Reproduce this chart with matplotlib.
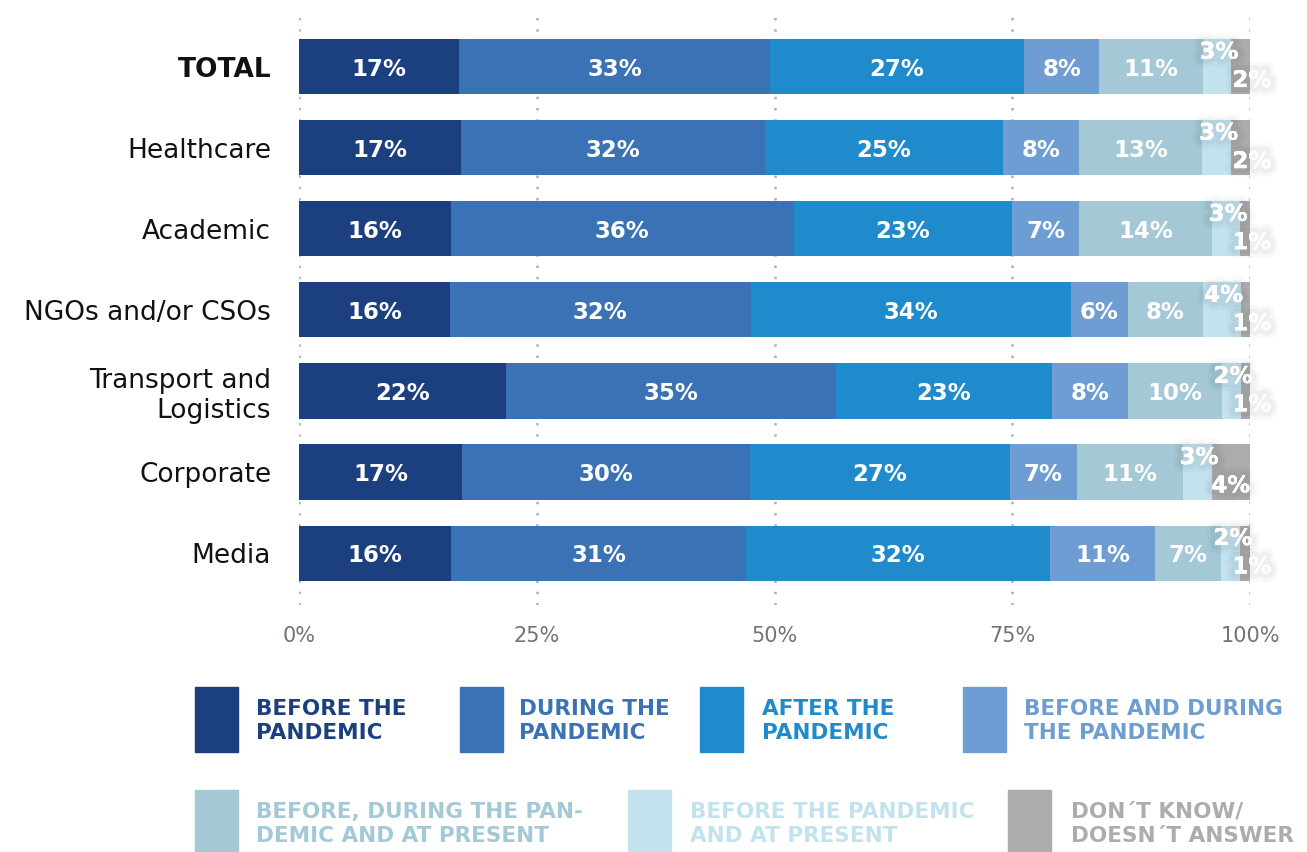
import matplotlib.pyplot as plt
import matplotlib.patheffects as pe
from matplotlib.patches import Rectangle

plt.rcParams['font.family'] = ['DejaVu Sans']

categories = ['TOTAL', 'Healthcare', 'Academic', 'NGOs and/or CSOs',
              'Transport and\nLogistics', 'Corporate', 'Media']
series = ['BEFORE THE\nPANDEMIC', 'DURING THE\nPANDEMIC', 'AFTER THE\nPANDEMIC',
          'BEFORE AND DURING\nTHE PANDEMIC', 'BEFORE, DURING THE PAN-\nDEMIC AND AT PRESENT',
          'BEFORE THE PANDEMIC\nAND AT PRESENT', 'DON´T KNOW/\nDOESN´T ANSWER']
values = [
    [17, 33, 27, 8, 11, 3, 2],
    [17, 32, 25, 8, 13, 3, 2],
    [16, 36, 23, 7, 14, 3, 1],
    [16, 32, 34, 6, 8, 4, 1],
    [22, 35, 23, 8, 10, 2, 1],
    [17, 30, 27, 7, 11, 3, 4],
    [16, 31, 32, 11, 7, 2, 1],
]
colors = ['#1c3f7f', '#3a72b5', '#1f8acc', '#6e9dd3', '#a4c8d6', '#c2e2ee', '#acacac']
xticks = [0, 25, 50, 75, 100]

W, H = 1307, 852
fig = plt.figure(figsize=(W / 100, H / 100), dpi=100)
ax = fig.add_axes([299 / W, 1 - 605 / H, (1250 - 299) / W, (605 - 10) / H])

glow = [pe.withStroke(linewidth=12, foreground=(0, 0, 0, 0.025)),
        pe.withStroke(linewidth=7, foreground=(0, 0, 0, 0.04)),
        pe.Normal()]

for i, row in enumerate(values):
    total = sum(row)
    left = 0
    for j, v in enumerate(row):
        w = v / total * 100
        ax.barh(i, w, left=left, height=0.68, color=colors[j], zorder=2)
        cx = left + w / 2
        if j < 5:
            ax.text(cx, i + 0.03, f'{v}%', ha='center', va='center', color='white',
                    fontsize=16.5, fontweight='bold', zorder=3)
        elif j == 5:
            ax.text(cx + 0.2, i - 0.18, f'{v}%', ha='center', va='center', color='white',
                    fontsize=16.5, fontweight='bold', zorder=4, path_effects=glow)
        else:
            x = cx if v >= 4 else 100.2
            ax.text(x, i + 0.17, f'{v}%', ha='center', va='center', color='white',
                    fontsize=16.5, fontweight='bold', zorder=4, path_effects=glow)
        left += w

for t in xticks:
    ax.axvline(t, color='#b0b0b0', linestyle=(0, (1, 3.5)), linewidth=1.8, zorder=1)

ax.set_xlim(0, 100)
ax.set_ylim(6.64, -0.70)
ax.set_xticks(xticks)
ax.set_xticklabels([f'{t}%' for t in xticks], color='#6f747a', fontsize=15)
ax.tick_params(axis='x', length=0, pad=15)
ax.set_yticks(range(len(categories)))
ax.set_yticklabels(categories, fontsize=19, color='#111111', linespacing=1.2)
ax.get_yticklabels()[0].set_fontweight('bold')
ax.tick_params(axis='y', length=0, pad=20)
for s in ax.spines.values():
    s.set_visible(False)

# legend built by hand, two rows
legend_pos = [(195, 687, 256), (460, 687, 519), (700, 687, 762), (963, 687, 1024),
              (195, 790, 256), (628, 790, 690), (1008, 790, 1071)]
for (px, py, tx), label, c in zip(legend_pos, series, colors):
    fig.add_artist(Rectangle((px / W, 1 - (py + 65) / H), 43 / W, 65 / H,
                             transform=fig.transFigure, color=c))
    fig.text(tx / W, 1 - (py + 34) / H, label, ha='left', va='center', color=c,
             fontsize=15.5, fontweight='bold', linespacing=1.3)

fig.savefig('out.png', dpi=100)
